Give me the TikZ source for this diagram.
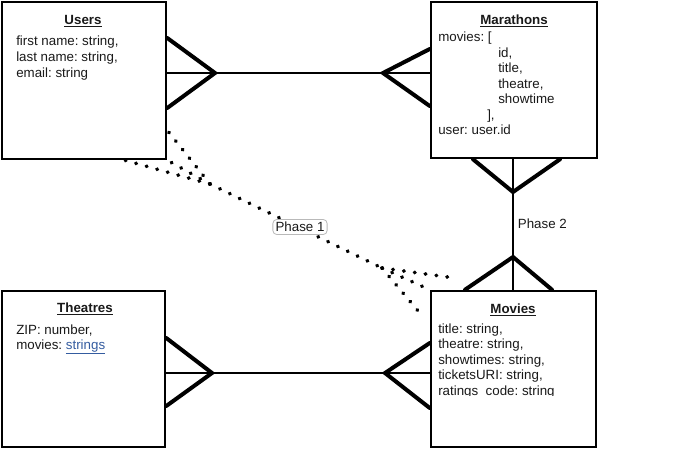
\documentclass[tikz,border=0pt]{standalone}
\usepackage{fontspec}
\setmainfont{Liberation Sans}
\frenchspacing
\definecolor{ink}{RGB}{25,25,25}
\definecolor{linkblue}{RGB}{52,92,160}
\definecolor{lblborder}{RGB}{185,185,185}
\begin{document}
\begin{tikzpicture}[x=0.75pt,y=-0.75pt,
  entity/.style={draw=black, line width=1.9pt, inner sep=0pt, fill=white},
  foot/.style={line width=3pt, line join=miter, line cap=round},
  thinline/.style={line width=1.1pt},
  mainline/.style={line width=1.4pt},
  dotline/.style={line width=2.9pt, line cap=round, dash pattern=on 0.3pt off 7.9pt},
  txt/.style={anchor=base west, inner sep=0pt, text=ink, font=\fontsize{10pt}{11.6pt}\selectfont},
  ttl/.style={anchor=base, inner sep=0pt, text=ink, font=\fontsize{10pt}{11.6pt}\selectfont\bfseries},
  lbl/.style={inner sep=2pt, text=ink, font=\fontsize{10pt}{11.6pt}\selectfont}]
\useasboundingbox (0,0) rectangle (681,450);

% entities
\node[entity, minimum width=123pt, minimum height=117.75pt] (Users) at (84,80.5) {};
\node[entity, minimum width=124.5pt, minimum height=117pt] (Marathons) at (514,80) {};
\node[entity, minimum width=123.75pt, minimum height=117pt] (Movies) at (513.5,369) {};
\node[entity, minimum width=122.25pt, minimum height=117pt] (Theatres) at (83.5,369) {};

% Users text
\node[ttl] (usersT) at (83,24) {\underline{Users}};
\node[txt] (u1) at (16,45) {first name: string,};
\node[txt] (u2) at (16,61) {last name: string,};
\node[txt] (u3) at (16,77) {email: string};

% Marathons text
\node[ttl] (marT) at (514,24) {\underline{Marathons}};
\node[txt] (m1) at (438,41) {movies: [};
\node[txt] (m2) at (498,57) {id,};
\node[txt] (m3) at (498,72) {title,};
\node[txt] (m4) at (498,88) {theatre,};
\node[txt] (m5) at (498,103) {showtime};
\node[txt] (m6) at (487,119) {],};
\node[txt] (m7) at (438,134) {user: user.id};

% Movies text
\node[ttl] (movT) at (513,313) {\underline{Movies}};
\node[txt] (v1) at (438,333) {title: string,};
\node[txt] (v2) at (438,348) {theatre: string,};
\node[txt] (v3) at (438,364) {showtimes: string,};
\node[txt] (v4) at (438,379) {ticketsURI: string,};
\begin{scope}
\clip (433,385) rectangle (594,395.5);
\node[txt] (v5) at (438,395) {ratings\_code: string};
\end{scope}

% Theatres text
\node[ttl] (thT) at (85,312) {\underline{Theatres}};
\node[txt] (t1) at (16,334) {ZIP: number,};
\node[txt] (t2) at (16,349) {movies: \textcolor{linkblue}{\underline{strings}}};

% Users -- Marathons
\coordinate (umA) at (215,73);
\coordinate (umB) at (383,73);
\draw[mainline] (umA) -- (umB);
\draw[thinline] (Users.east |- umA) -- (umA);
\draw[foot] (Users.east |- 0,38) -- (umA) -- (Users.east |- 0,108);
\draw[thinline] (Marathons.west |- umB) -- (umB);
\draw[foot] (Marathons.west |- 0,49) -- (umB) -- (Marathons.west |- 0,106);

% Theatres -- Movies
\coordinate (tmA) at (212,373);
\coordinate (tmB) at (385,373);
\draw[mainline] (tmA) -- (tmB);
\draw[thinline] (Theatres.east |- tmA) -- (tmA);
\draw[foot] (Theatres.east |- 0,338) -- (tmA) -- (Theatres.east |- 0,406);
\draw[thinline] (Movies.west |- tmB) -- (tmB);
\draw[foot] (Movies.west |- 0,343) -- (tmB) -- (Movies.west |- 0,408);

% Marathons -- Movies (Phase 2)
\coordinate (mmA) at (513,192);
\coordinate (mmB) at (513,257);
\draw[mainline] (mmA) -- (mmB);
\draw[thinline] (mmA |- Marathons.south) -- (mmA);
\draw[foot] (Marathons.south -| 473,0) -- (mmA) -- (Marathons.south -| 560,0);
\draw[thinline] (mmB |- Movies.north) -- (mmB);
\draw[foot] (Movies.north -| 465,0) -- (mmB) -- (Movies.north -| 552,0);
\node[lbl, anchor=west] (phase2) at (515,224) {Phase 2};

% Users -- Movies (Phase 1, dotted)
\coordinate (pa) at (210,184);
\coordinate (pb) at (382,268);
\coordinate (paU) at (167,130);
\coordinate (paL) at (124,160);
\coordinate (pbU) at (455,278);
\coordinate (pbL) at (424,318);
\draw[dotline] (pa) -- (pb);
\draw[dotline] (pa) -- (paU);
\draw[dotline] (pa) -- (Users.south east);
\draw[dotline] (pa) -- (paL);
\draw[dotline] (pb) -- (pbU);
\draw[dotline] (pb) -- (Movies.north west);
\draw[dotline] (pb) -- (pbL);
\node[lbl, draw=lblborder, line width=0.6pt, fill=white, rounded corners=3pt] (phase1) at (300,227) {Phase 1};
\end{tikzpicture}
\end{document}
